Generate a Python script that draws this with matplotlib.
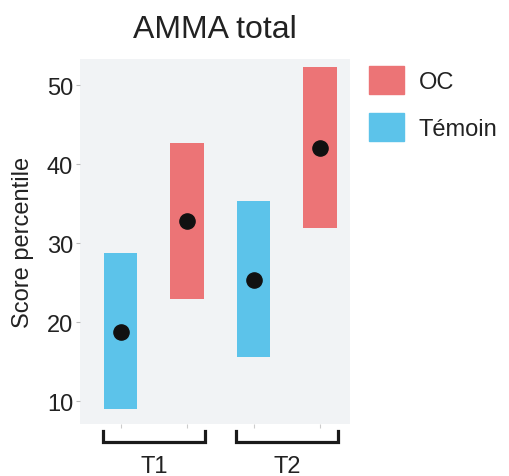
import numpy as np
import matplotlib.pyplot as plt
from matplotlib.patches import Patch

plt.rcParams['font.family'] = ['Liberation Sans', 'DejaVu Sans']

groups = ['T1', 'T2']
series = ['Témoin', 'OC']
temoin_low = [9.0, 15.6]
temoin_high = [28.7, 35.3]
temoin_mean = [18.7, 25.3]
oc_low = [22.9, 31.9]
oc_high = [42.7, 52.3]
oc_mean = [32.8, 42.0]
yticks = [10, 20, 30, 40, 50]

col_oc = '#ec7476'
col_tem = '#5cc3ea'
txt = '#222222'

fig = plt.figure(figsize=(5.1, 4.77), dpi=100)
ax = fig.add_axes([80/510, 1-425/477, 270/510, 365/477])
ax.set_facecolor('#f1f3f5')
for s in ax.spines.values():
    s.set_visible(False)

g = np.arange(len(groups))
pos_tem = 2*g + 1
pos_oc = 2*g + 2
w = 0.5

ax.bar(pos_tem, np.array(temoin_high) - np.array(temoin_low), bottom=temoin_low,
       width=w, color=col_tem, zorder=2)
ax.bar(pos_oc, np.array(oc_high) - np.array(oc_low), bottom=oc_low,
       width=w, color=col_oc, zorder=2)
ax.scatter(pos_tem, temoin_mean, s=120, color='#111111', zorder=3)
ax.scatter(pos_oc, oc_mean, s=120, color='#111111', zorder=3)

ax.set_xlim(0.39, 4.45)
ax.set_ylim(7.1, 53.3)
ax.set_yticks(yticks)
ax.tick_params(axis='y', labelsize=17, labelcolor=txt, color='#bbbbbb',
               length=3, width=0.8, pad=2)

# small ticks under each bar, group labels as minor ticks
ax.set_xticks(np.concatenate([pos_tem, pos_oc]))
ax.set_xticklabels([])
ax.tick_params(axis='x', which='major', color='#cccccc', length=3, width=0.8)
ax.set_xticks(g*2 + 1.5, minor=True)
ax.set_xticklabels(groups, minor=True)
ax.tick_params(axis='x', which='minor', length=0, labelsize=17,
               labelcolor=txt, pad=22)

# brackets below each group
tr = ax.get_xaxis_transform()
for gi in g:
    x0 = 2*gi + 1 - 0.27
    x1 = 2*gi + 2 + 0.27
    ax.plot([x0, x0, x1, x1], [-0.019, -0.049, -0.049, -0.019], transform=tr,
            color='#1a1a1a', lw=2.3, clip_on=False, solid_joinstyle='miter')

ax.set_title('AMMA total', fontsize=23, color=txt, pad=16)
ax.set_ylabel('Score percentile', fontsize=17, color=txt)
ax.yaxis.set_label_coords(-0.17, 0.5)

handles = [Patch(color=col_oc, label='OC'), Patch(color=col_tem, label='Témoin')]
fig.legend(handles=handles, loc='upper left', bbox_to_anchor=(369/510, 1-67/477),
           frameon=False, fontsize=17, handlelength=1.48, handleheight=1.44,
           labelspacing=0.8, handletextpad=0.62, borderpad=0, borderaxespad=0,
           labelcolor=txt)

fig.savefig('out.png', dpi=100)
